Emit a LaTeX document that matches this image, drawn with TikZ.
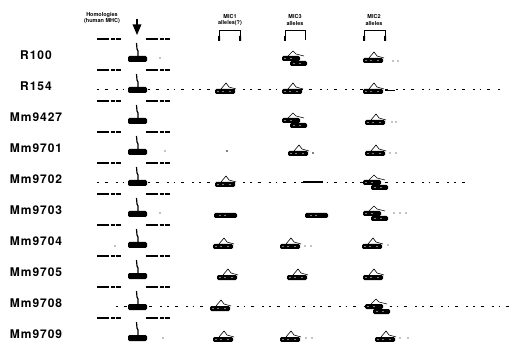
\documentclass[tikz,border=0pt]{standalone}
\usepackage{fontspec}
\setmainfont{TeX Gyre Heros}
\newfontfamily\lblfont[LetterSpace=8]{TeX Gyre Heros}
\usetikzlibrary{arrows}

\tikzset{
  rowlabel/.style={font=\lblfont\bfseries\fontsize{12}{12}\selectfont, inner sep=0pt},
  head/.style={font=\bfseries\fontsize{5.5}{6.5}\selectfont, align=center, inner sep=0pt},
  bar/.style={fill=black, rounded corners=1.4pt},
  peak/.style={line width=0.6pt},
  smear/.style={line width=0.8pt, dash pattern=on 1.5pt off 6pt on 3pt off 8pt on 2pt off 5pt},
  blotmark/.style={line width=1.2pt, dash pattern=on 12pt off 1.5pt on 4pt off 1pt on 5pt off 40pt},
  band/.pic={
    \fill[bar] (0,0) rectangle (20,5);
    \draw[peak] (6,0) -- (11,-6) -- (14,-2) -- (21,0);
    \fill[white] (3,2.5) circle (0.6) (8,2.5) circle (0.6) (15,2.5) circle (0.6);
  },
  bandflat/.pic={
    \fill[bar] (0,0) rectangle (23,5);
    \fill[white] (6,2.5) circle (0.6) (11,2.5) circle (0.6);
  },
  bandstack/.pic={
    \fill[bar] (0,-2) rectangle (18,3);
    \fill[bar] (8,3) rectangle (25,8);
    \draw[peak] (6,-2) -- (11,-7) -- (14,-4) -- (22,-2);
    \fill[white] (3,0.5) circle (0.6) (9,0.5) circle (0.6) (12,5.5) circle (0.6) (18,5.5) circle (0.6);
  }
}

\begin{document}
\begin{tikzpicture}[x=1pt,y=-1pt]
	\useasboundingbox (0,0) rectangle (520,342);
	% column heads
	\node[head] (homol) at (102,18) {Homologies\\(human MHC)};
	\node[head] (mic1) at (230,20) {MIC1\\alleles(?)};
	\node[head] (mic3) at (295,20) {MIC3\\alleles};
	\node[head] (mic2) at (374,20) {MIC2\\alleles};
	\coordinate (arrtop) at (137,19);
	\coordinate (arrtip) at (137,35);
	\draw[line width=1.5pt,-triangle 45] (arrtop) -- (arrtip);
	% brackets
	\draw[line width=0.8pt] (219,40) -- (219,30) -- (240,30) -- (240,40);
	\draw[line width=0.8pt] (285,40) -- (285,30) -- (305,30) -- (305,40);
	\draw[line width=0.8pt] (364,40) -- (364,30) -- (385,30) -- (385,40);
	\fill (218,36) rectangle (220,41) (239,36) rectangle (241,41);
	\fill (284,36) rectangle (286,41);
	\fill (363,36) rectangle (365,41) (384,36) rectangle (386,41);
	% rows
	\foreach \name [count=\i from 0] in {R100,R154,Mm9427,Mm9701,Mm9702,Mm9703,Mm9704,Mm9705,Mm9708,Mm9709}{
		\pgfmathsetmacro\yy{55+31*\i}
		\node[rowlabel] (lbl\i) at (36,\yy) {\name};
		\draw[blotmark] (97,\yy-16) -- (122,\yy-16);
		\draw[blotmark] (146,\yy-16) -- (171,\yy-16);
		\draw[line width=1.2pt] (136.5,\yy-12) -- (137,\yy-6) -- (138,\yy-4) -- (138,\yy+2);
		\fill[bar] (128,\yy+1) rectangle (147,\yy+7);
	}
	% smeared lanes
	\draw[smear] (97,89) -- (500,89);
	\draw[smear] (97,182) -- (465,182);
	\draw[smear] (116,306) -- (510,306);
	% R100
	\fill (160,58) circle (0.7);
	\pic at (282,58) {bandstack};
	\pic at (363,58) {band};
	\fill (393,61) circle (0.7) (398,61) circle (0.7);
	% R154
	\pic at (215,89) {band};
	\pic at (282,89) {band};
	\pic at (363,89) {band};
	\draw[line width=1pt] (385,91) -- (395,91);
	% Mm9427
	\pic at (282,120) {bandstack};
	\pic at (365,120) {band};
	\fill (392,122) circle (0.7) (396,122) circle (0.7);
	% Mm9701
	\fill (165,151) circle (0.7) (227,151) circle (0.8);
	\pic at (288,151) {band};
	\fill (313,153) circle (0.8);
	\pic at (365,151) {band};
	\fill (390,153) circle (0.6) (396,153) circle (0.6);
	% Mm9702
	\pic at (215,182) {band};
	\draw[line width=1.2pt] (303,182) -- (323,182);
	\pic at (363,182) {bandstack};
	% Mm9703
	\fill (160,213) circle (0.7);
	\pic at (214,213) {bandflat};
	\pic at (305,213) {bandflat};
	\pic at (363,213) {bandstack};
	\fill (394,213) circle (0.6) (400,213) circle (0.6) (406,213) circle (0.6);
	% Mm9704
	\fill (115,246) circle (0.7);
	\pic at (213,244) {band};
	\pic at (280,244) {band};
	\fill (305,246) circle (0.6) (311,246) circle (0.6);
	\pic at (362,244) {band};
	\fill (388,245) circle (0.6);
	% Mm9705
	\pic at (217,275) {band};
	\pic at (287,275) {band};
	\pic at (363,275) {band};
	% Mm9708
	\pic at (210,306) {band};
	\pic at (365,306) {bandstack};
	% Mm9709
	\fill (163,338) circle (0.7);
	\pic at (213,337) {band};
	\pic at (280,337) {band};
	\fill (306,338) circle (0.6) (312,338) circle (0.6);
	\pic at (375,337) {band};
	\fill (400,338) circle (0.6) (408,338) circle (0.6);
\end{tikzpicture}
\end{document}
